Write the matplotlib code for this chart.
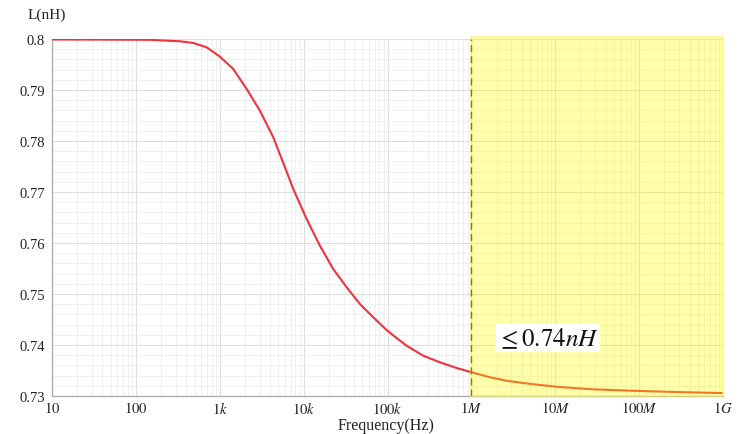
import numpy as np
import matplotlib
matplotlib.use("Agg")
import matplotlib.pyplot as plt
from matplotlib.ticker import FixedLocator, LogLocator, MultipleLocator, NullFormatter

plt.rcParams['font.family'] = ['Liberation Serif', 'DejaVu Serif']
plt.rcParams['mathtext.fontset'] = 'stix'

# data
freq_hz = [10, 37.3, 147, 336, 483, 698, 1005, 1449, 2094, 3013, 4345, 6266,
           7516, 10860, 15630, 22540, 32580, 46880, 67610, 97500, 128300,
           169000, 266700, 421700, 666800, 1004000, 1663000, 2630000, 4140000,
           6546000, 11350000, 28050000, 101900000, 305500000, 1000000000]
L_nh = [0.7999, 0.79988, 0.79984, 0.79955, 0.79922, 0.79837, 0.79653, 0.79412,
        0.79020, 0.78594, 0.78073, 0.77402, 0.77059, 0.76471, 0.75947, 0.75490,
        0.75131, 0.74804, 0.74543, 0.74294, 0.74137, 0.73986, 0.73790, 0.73661,
        0.73549, 0.73465, 0.73367, 0.73300, 0.73255, 0.73216, 0.73176, 0.73131,
        0.73098, 0.73076, 0.73057]

x_ticks = [10, 100, 1e3, 1e4, 1e5, 1e6, 1e7, 1e8, 1e9]
x_labels = ["$10$", "$100$", "$1k$", "$10k$", "$100k$", "$1M$", "$10M$", "$100M$", "$1G$"]
y_ticks = [0.73, 0.74, 0.75, 0.76, 0.77, 0.78, 0.79, 0.80]
y_labels = ["0.73", "0.74", "0.75", "0.76", "0.77", "0.78", "0.79", "0.8"]

region_start = 1e6
region_end = 1e9
annot_text = r"$\leq 0.74\mathit{nH}$"
annot_x = 8.07e6
annot_y = 0.7414

fig = plt.figure(figsize=(7.43, 4.35), dpi=100)
ax = fig.add_axes([52/743, 1-397/435, (723-52)/743, (397-40)/435])

ax.plot(freq_hz, L_nh, color='#f0323c', lw=1.5, zorder=3, solid_joinstyle='round')

ax.set_xscale('log')
ax.set_xlim(10, 1e9)
ax.set_ylim(0.73, 0.80)

ax.xaxis.set_major_locator(FixedLocator(x_ticks))
ax.set_xticklabels(x_labels)
ax.xaxis.set_minor_locator(LogLocator(base=10, subs=np.arange(2, 10), numticks=20))
ax.xaxis.set_minor_formatter(NullFormatter())
ax.yaxis.set_major_locator(FixedLocator(y_ticks))
ax.set_yticklabels(y_labels)
ax.yaxis.set_minor_locator(MultipleLocator(0.002))

ax.grid(which='major', color='#dedede', lw=0.8, zorder=0)
ax.grid(which='minor', color='#efefef', lw=0.7, zorder=0)
ax.set_axisbelow(True)

ax.tick_params(which='both', length=0, labelsize=10.5, colors='#222222')
ax.tick_params(axis='x', pad=3)
ax.tick_params(axis='y', pad=5)

for s in ['top', 'right']:
    ax.spines[s].set_visible(False)
for s in ['left', 'bottom']:
    ax.spines[s].set_color('#b0b0b0')
    ax.spines[s].set_linewidth(1.0)

# highlighted region (drawn over the curve, like the reference)
ax.axvspan(region_start, region_end, ymin=0, ymax=1.006, facecolor=(1, 1, 0, 0.33),
           edgecolor=(1, 0.95, 0.3, 0.6), lw=1.2, zorder=4, clip_on=False)
ax.axvline(region_start, color='#8a7a00', lw=1.0, ls=(0, (5, 3)), zorder=5)

ax.text(annot_x, annot_y, annot_text, fontsize=18, ha='center', va='center',
        color='#111111', zorder=6,
        bbox=dict(facecolor='white', edgecolor='none', pad=1.5))

fig.text(47/743, 1-15/435, "L(nH)", fontsize=11, ha='center', va='center', color='#222222')
fig.text(386/743, 1-426/435, "Frequency(Hz)", fontsize=11.5, ha='center', va='center', color='#222222')

fig.savefig("out.png", dpi=100)
